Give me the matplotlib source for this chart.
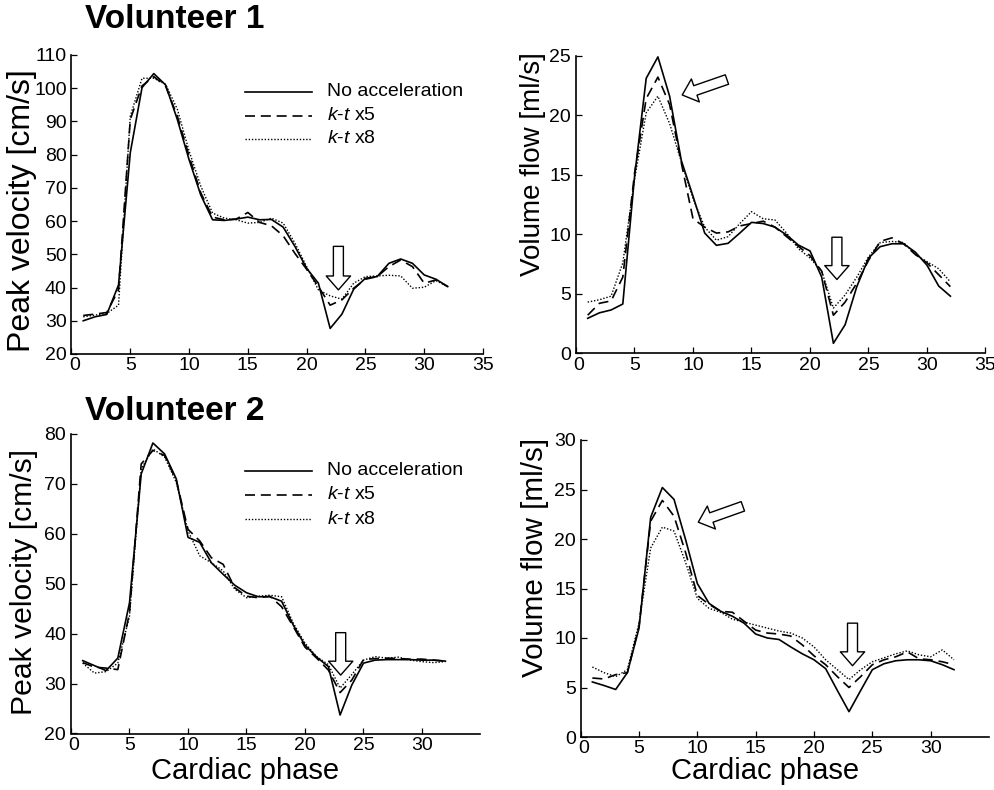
import matplotlib
matplotlib.use("Agg")
import matplotlib.pyplot as plt
from matplotlib.lines import Line2D
from matplotlib.transforms import ScaledTranslation

plt.rcParams['font.family'] = ['Liberation Sans', 'DejaVu Sans']
plt.rcParams['mathtext.fontset'] = 'custom'
plt.rcParams['mathtext.it'] = 'Liberation Sans:italic'
plt.rcParams['mathtext.rm'] = 'Liberation Sans'

# ---------------- data ----------------
phase = list(range(1, 33))
series_labels = ["No acceleration", r"$k$-$t$ x5", r"$k$-$t$ x8"]

v1_vel_none = [30, 31.2, 31.9, 40.8, 80.6, 100.2, 104.4, 101, 90.6, 78.5, 67.8, 60.4, 60.2, 60.6, 61.2, 60.4,
               60.5, 58.2, 52.4, 45.8, 41.3, 27.7, 32.0, 39.5, 42.8, 43.3, 47.3, 48.6, 47.3, 43.8, 42.5, 40.3]
v1_vel_x5 = [31.6, 32, 32.5, 39.3, 90.6, 100.7, 103.5, 100.7, 91.6, 79.6, 68.5, 61.2, 60.4, 60.6, 62.6, 59.6,
             58.6, 55.6, 50.3, 45.5, 40.3, 34.7, 36.3, 39.8, 42.5, 43.3, 46.3, 48.3, 46.3, 41.3, 42.3, 40.3]
v1_vel_x8 = [31.2, 31.7, 32.2, 34.7, 91.6, 103, 103, 101.2, 93.7, 81.1, 70.5, 62.4, 60.9, 60.4, 59.4, 59.6,
             60.9, 59.4, 53.4, 46.3, 39.3, 37.5, 36.5, 41.3, 43.3, 43.5, 43.7, 43.5, 39.8, 40.1, 42.1, 40.3]

v1_flow_none = [2.94, 3.4, 3.64, 4.14, 14.8, 23.1, 24.9, 21.6, 16.2, 13.2, 10.1, 9.07, 9.24, 10.1, 11.0, 10.9,
                10.6, 9.94, 9.1, 8.6, 6.4, 0.84, 2.4, 5.6, 8.0, 8.96, 9.2, 9.2, 8.5, 7.4, 5.65, 4.8]
v1_flow_x5 = [3.2, 4.2, 4.4, 6.4, 15.1, 21.4, 23.2, 20.9, 16.0, 11.3, 10.6, 10.1, 10.2, 10.7, 10.9, 11.1,
              10.6, 9.8, 9.0, 8.2, 6.9, 3.2, 4.3, 5.9, 7.8, 9.4, 9.7, 9.2, 8.3, 7.6, 6.6, 5.6]
v1_flow_x8 = [4.3, 4.5, 4.8, 7.6, 14.6, 20.2, 21.6, 19.3, 16.1, 13.0, 10.6, 9.5, 9.8, 10.9, 11.9, 11.3,
              11.2, 10.1, 8.8, 8.0, 6.9, 3.8, 4.9, 6.4, 8.1, 9.3, 9.4, 9.3, 8.3, 7.7, 7.1, 6.0]

v2_vel_none = [34.6, 33.6, 32.6, 35.1, 46.2, 72, 78.2, 76, 71, 59.3, 58.3, 54.2, 51.9, 49.7, 48.2, 47.4,
               47.4, 46.5, 41.7, 37.7, 35.3, 33.4, 23.7, 29.7, 34.1, 34.7, 34.8, 34.8, 34.8, 34.7, 34.7, 34.5]
v2_vel_x5 = [34.2, 33.3, 33.1, 32.8, 44.2, 74, 76.7, 75.7, 70.7, 60.9, 58.6, 55.2, 53.9, 49.2, 47.5, 47.2,
             47.5, 45.4, 41.4, 37.3, 35.1, 32.7, 28.2, 30.7, 34.8, 35, 35.1, 35, 34.9, 34.9, 34.7, 34.5]
v2_vel_x8 = [34.1, 32.1, 32.4, 34.1, 43.5, 73, 77, 75.4, 70.3, 60.6, 55.6, 54.2, 52.6, 48.9, 47.2, 47.5,
             47.7, 47.4, 42.1, 38.1, 35.4, 33.8, 29.1, 31.8, 34.7, 35.4, 35.1, 35.3, 34.7, 34.4, 34.2, 34.4]

v2_flow_none = [5.56, 5.2, 4.8, 6.5, 11.0, 22.2, 25.2, 24.0, 19.9, 15.5, 13.5, 12.7, 12.2, 11.5, 10.4, 10.0,
                9.85, 9.1, 8.4, 7.8, 6.9, 4.7, 2.56, 4.7, 6.8, 7.4, 7.7, 7.8, 7.8, 7.7, 7.3, 6.8]
v2_flow_x5 = [5.96, 5.86, 6.3, 6.5, 11.2, 21.8, 23.9, 22.3, 18.6, 14.3, 13.4, 12.7, 12.6, 11.7, 10.8, 10.5,
              10.4, 10.2, 9.3, 8.2, 7.3, 6.1, 5.0, 6.1, 7.3, 7.8, 8.1, 8.6, 7.9, 7.8, 7.6, 7.3]
v2_flow_x8 = [7.07, 6.5, 6.1, 6.8, 11.5, 19.1, 21.2, 20.8, 17.6, 14.0, 13.0, 12.6, 11.9, 11.6, 11.3, 11.0,
              10.7, 10.5, 10.0, 9.1, 7.8, 6.8, 5.8, 6.8, 7.6, 8.0, 8.4, 8.7, 8.3, 8.1, 8.8, 7.8]

# ---------------- layout helpers ----------------
W, H = 995, 790
fig = plt.figure(figsize=(W / 100, H / 100), dpi=100)


def box(l, r, t, b):
    return [l / W, 1 - b / H, (r - l) / W, (b - t) / H]


styles = [dict(ls='-', lw=1.2, color='black'),
          dict(ls=(0, (6, 3.5)), lw=1.2, color='black'),
          dict(ls=(0, (1, 1.3)), lw=1.0, color='black')]

panels = [
    (box(71.5, 483, 55, 354), [v1_vel_none, v1_vel_x5, v1_vel_x8], (20, 110), list(range(20, 111, 10)),
     list(range(0, 36, 5))),
    (box(576, 985.5, 55.7, 353.3), [v1_flow_none, v1_flow_x5, v1_flow_x8], (0, 25), list(range(0, 26, 5)),
     list(range(0, 36, 5))),
    (box(71, 480.5, 434, 733.5), [v2_vel_none, v2_vel_x5, v2_vel_x8], (20, 80), list(range(20, 81, 10)),
     list(range(0, 31, 5))),
    (box(580.7, 989, 440, 737), [v2_flow_none, v2_flow_x5, v2_flow_x8], (0, 30), list(range(0, 31, 5)),
     list(range(0, 31, 5))),
]

axes = []
for rect, ser, ylim, yt, xt in panels:
    ax = fig.add_axes(rect)
    for s, st in zip(ser, styles):
        ax.plot(phase, s, **st)
    ax.set_xlim(0, 35)
    ax.set_ylim(*ylim)
    ax.set_yticks(yt)
    ax.set_xticks(xt)
    ax.spines['top'].set_visible(False)
    ax.spines['right'].set_visible(False)
    ax.spines['left'].set_linewidth(1.2)
    ax.spines['bottom'].set_linewidth(1.2)
    ax.tick_params(axis='x', direction='in', length=4, width=0.9, labelsize=14, pad=2.5)
    ax.tick_params(axis='y', direction='in', length=4, width=0.9, labelsize=14, pad=3.5)
    ax.patch.set_alpha(0)
    # nudge the x "0" label right, as in the reference, so it clears the lowest y label
    lab0 = ax.xaxis.get_major_ticks()[0].label1
    lab0.set_transform(lab0.get_transform() + ScaledTranslation(3 / 100, 0, fig.dpi_scale_trans))
    axes.append(ax)

# ---------------- arrows ----------------
arrow_props = dict(arrowstyle='simple,head_length=1.0,head_width=1.75,tail_width=0.72',
                   mutation_scale=10, fc='white', ec='black', lw=1.0, shrinkA=0, shrinkB=0)
arrows = [
    (0, (22.7, 39.3), (22.7, 52.4)),
    (1, (22.3, 6.2), (22.3, 9.75)),
    (1, (9.08, 21.7), (12.9, 23.0)),
    (2, (23.05, 31.7), (23.05, 40.2)),
    (3, (23.3, 7.2), (23.3, 11.5)),
    (3, (10.08, 21.7), (13.9, 23.3)),
]
for i, tip, tail in arrows:
    axes[i].annotate('', xy=tip, xytext=tail, arrowprops=arrow_props)

# ---------------- legends ----------------
for rows in ([92, 115.5, 138.5], [471, 494.5, 519]):
    for y, st, lab in zip(rows, styles, series_labels):
        fig.add_artist(Line2D([245 / W, 312 / W], [1 - y / H, 1 - y / H], transform=fig.transFigure, **st))
        fig.text(327 / W, 1 - y / H, lab, fontsize=14, ha='left', va='center')

# ---------------- texts ----------------
fig.text(85 / W, 1 - 20 / H, "Volunteer 1", fontsize=24, fontweight='bold', ha='left', va='center')
fig.text(85 / W, 1 - 412 / H, "Volunteer 2", fontsize=24, fontweight='bold', ha='left', va='center')

fig.text(22 / W, 1 - 211 / H, "Peak velocity [cm/s]", fontsize=23, rotation=90, ha='center', va='center')
fig.text(533 / W, 1 - 164 / H, "Volume flow [ml/s]", fontsize=20, rotation=90, ha='center', va='center')
fig.text(24 / W, 1 - 582 / H, "Peak velocity [cm/s]", fontsize=21.7, rotation=90, ha='center', va='center')
fig.text(535 / W, 1 - 557 / H, "Volume flow [ml/s]", fontsize=21.3, rotation=90, ha='center', va='center')

fig.text(245 / W, 1 - 771 / H, "Cardiac phase", fontsize=21, ha='center', va='center')
fig.text(765 / W, 1 - 771 / H, "Cardiac phase", fontsize=21, ha='center', va='center')

fig.savefig("out.png", dpi=100, facecolor='white')
